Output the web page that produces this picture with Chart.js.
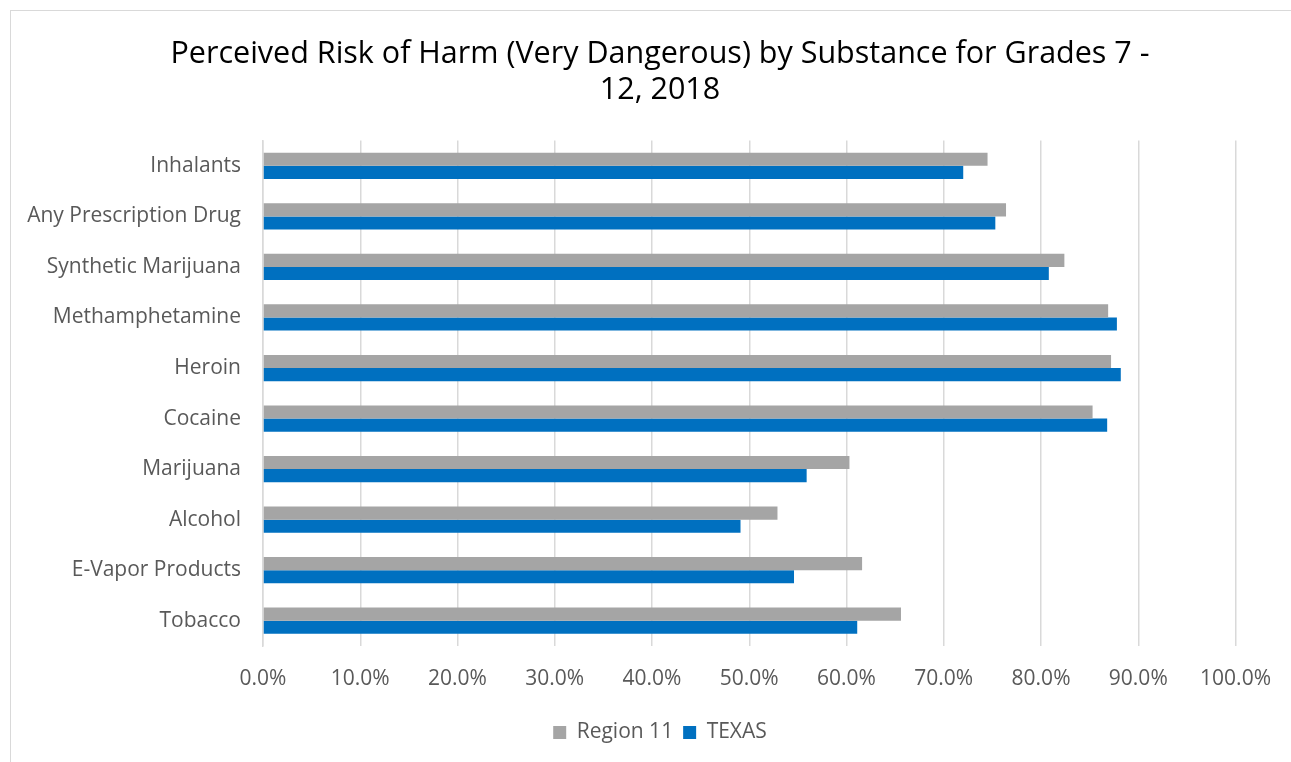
<!DOCTYPE html>
<html>
<head>
<meta charset="utf-8">
<script src="https://cdn.jsdelivr.net/npm/chart.js@4.4.1/dist/chart.umd.min.js"></script>
<style>
  html, body { margin: 0; padding: 0; background: #ffffff; }
  #wrap { position: relative; width: 1291px; height: 762px; }
  #frame { position: absolute; left: 10px; top: 10px; width: 1290px; height: 760px; border: 1.5px solid #d9d9d9; box-sizing: border-box; }
  canvas { position: absolute; left: 0; top: 0; }
</style>
</head>
<body>
<div id="wrap">
  <div id="frame"></div>
  <canvas id="chart" width="1291" height="762"></canvas>
</div>
<script>
// Substances, top to bottom
const categories = [
  "Inhalants",
  "Any Prescription Drug",
  "Synthetic Marijuana",
  "Methamphetamine",
  "Heroin",
  "Cocaine",
  "Marijuana",
  "Alcohol",
  "E-Vapor Products",
  "Tobacco"
];

// Share of students rating each substance "very dangerous" (%)
const region11 = [74.5, 76.4, 82.4, 86.9, 87.2, 85.3, 60.3, 52.9, 61.6, 65.6];
const texas    = [72.0, 75.3, 80.8, 87.8, 88.2, 86.8, 55.9, 49.1, 54.6, 61.1];

const xTicks = [0, 10, 20, 30, 40, 50, 60, 70, 80, 90, 100];

const titleLines = [
  "Perceived Risk of Harm (Very Dangerous) by Substance for Grades 7 -",
  "12, 2018"
];

const FONT = "'Open Sans', 'Noto Sans', sans-serif";

// Centre the title and legend on the outer frame rather than on the
// padded layout box (which is lopsided because of the long category labels).
const frameCentre = {
  id: "frameCentre",
  afterLayout(chart) {
    const shift = 34;
    [chart.titleBlock, chart.legend].forEach(box => {
      if (box) { box.left += shift; box.right += shift; }
    });
  }
};

new Chart(document.getElementById("chart"), {
  type: "bar",
  data: {
    labels: categories,
    datasets: [
      { label: "Region 11", data: region11, backgroundColor: "#a5a5a5", borderWidth: 0 },
      { label: "TEXAS", data: texas, backgroundColor: "#0070c0", borderWidth: 0 }
    ]
  },
  plugins: [frameCentre],
  options: {
    indexAxis: "y",
    responsive: false,
    animation: false,
    devicePixelRatio: 1,
    layout: { padding: { left: 12, right: 51, top: 36, bottom: 9 } },
    datasets: { bar: { categoryPercentage: 0.52, barPercentage: 1.0 } },
    plugins: {
      title: {
        display: true,
        text: titleLines,
        color: "#000000",
        font: { family: FONT, size: 30.5, weight: "normal", lineHeight: 1.19 },
        padding: { top: 0, bottom: 32 }
      },
      legend: {
        position: "bottom",
        labels: {
          color: "#595959",
          font: { family: FONT, size: 21 },
          boxWidth: 13,
          boxHeight: 13,
          padding: 10
        }
      },
      tooltip: { enabled: false }
    },
    scales: {
      x: {
        min: 0,
        max: 100,
        afterBuildTicks: (axis) => { axis.ticks = xTicks.map(v => ({ value: v })); },
        afterFit: (axis) => { axis.height = 66; },
        ticks: {
          color: "#595959",
          font: { family: FONT, size: 21 },
          padding: 20,
          callback: (v) => Number(v).toFixed(1) + "%"
        },
        grid: { color: "#d9d9d9", lineWidth: 1.5, drawTicks: false },
        border: { display: false }
      },
      y: {
        afterFit: (axis) => { axis.width = 251; },
        ticks: {
          color: "#595959",
          font: { family: FONT, size: 21 },
          padding: 22
        },
        grid: { display: false, drawTicks: false },
        border: { display: true, color: "#d9d9d9", width: 1.5 }
      }
    }
  }
});
</script>
</body>
</html>
